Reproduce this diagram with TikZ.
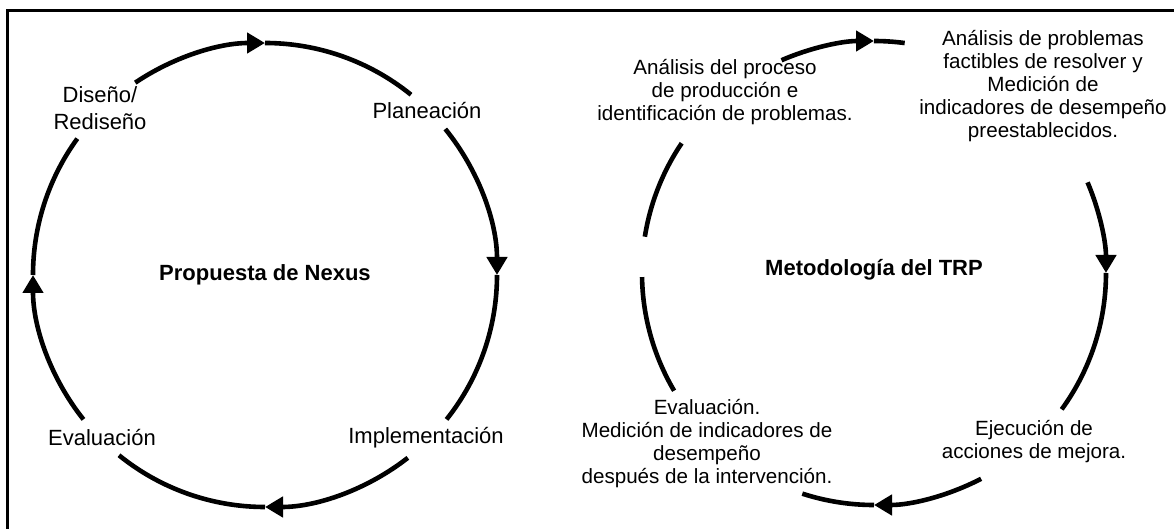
\documentclass[tikz,border=0pt]{standalone}
\usepackage{fontspec}
\setmainfont{Liberation Sans}
\usetikzlibrary{calc,arrows.meta}

\tikzset{
	ring/.style={line width=2.3pt},
	tipped/.style={ring,-{Triangle[length=9pt,width=10pt]}},
	lbl/.style={align=center,inner sep=0pt,font=\fontsize{11pt}{13.8pt}\selectfont},
	note/.style={align=center,inner sep=0pt,font=\fontsize{10.3pt}{11.5pt}\selectfont},
	ttl/.style={inner sep=0pt,font=\fontsize{11pt}{13.8pt}\selectfont\bfseries}
}

\begin{document}
\begin{tikzpicture}[x=0.5pt,y=0.5pt]
				\useasboundingbox (0,0) rectangle (1174,-529);
				\coordinate (L) at (265,-275);
				\coordinate (R) at (874,-273);
				\def\rad{232}
				
				% frame
				\draw[line width=1.5pt] (7,-535) -- (7,-10.5) -- (1180,-10.5);
				
				% left cycle
				\foreach \a/\b/\c in {124/90/51,39/0/-38.5,-52/-90/-129,218.5/180/144}{
					\draw[tipped] ($(L)+(\a:\rad)$) arc[start angle=\a,end angle=\b,radius=\rad];
					\draw[ring] ($(L)+(\b:\rad)$) arc[start angle=\b,end angle=\c,radius=\rad];}
				
				% right cycle
				\foreach \a/\b/\c in {113.5/90/82.4,23/0/-36,-62.5/-90/-108}{
					\draw[tipped] ($(R)+(\a:\rad)$) arc[start angle=\a,end angle=\b,radius=\rad];
					\draw[ring] ($(R)+(\b:\rad)$) arc[start angle=\b,end angle=\c,radius=\rad];}
				\draw[ring] ($(R)+(146:\rad)$) arc[start angle=146,end angle=171,radius=\rad];
				\draw[ring] ($(R)+(181:\rad)$) arc[start angle=181,end angle=210.5,radius=\rad];
				
				\node[lbl] (dis) at (100,-108) {Diseño/\\Rediseño};
				\node[lbl] (pla) at (427,-111) {Planeación};
				\node[lbl] (imp) at (426,-438) {Implementación};
				\node[lbl] (eva) at (102,-438) {Evaluación};
				\node[ttl] (nex) at (L) {Propuesta de Nexus};
				
				\node[note] (apr) at (725,-92) {Análisis del proceso\\de producción e\\identificación de problemas.};
				\node[note] (apb) at (1043,-86) {Análisis de problemas\\factibles de resolver y\\Medición de\\indicadores de desempeño\\preestablecidos.};
				\node[note] (evm) at (707,-444) {Evaluación.\\Medición de indicadores de\\desempeño\\después de la intervención.};
				\node[note] (eje) at (1034,-442) {Ejecución de\\acciones de mejora.};
				\node[ttl] (trp) at ($(R)+(0,3)$) {Metodología del TRP};
			\end{tikzpicture}
\end{document}
